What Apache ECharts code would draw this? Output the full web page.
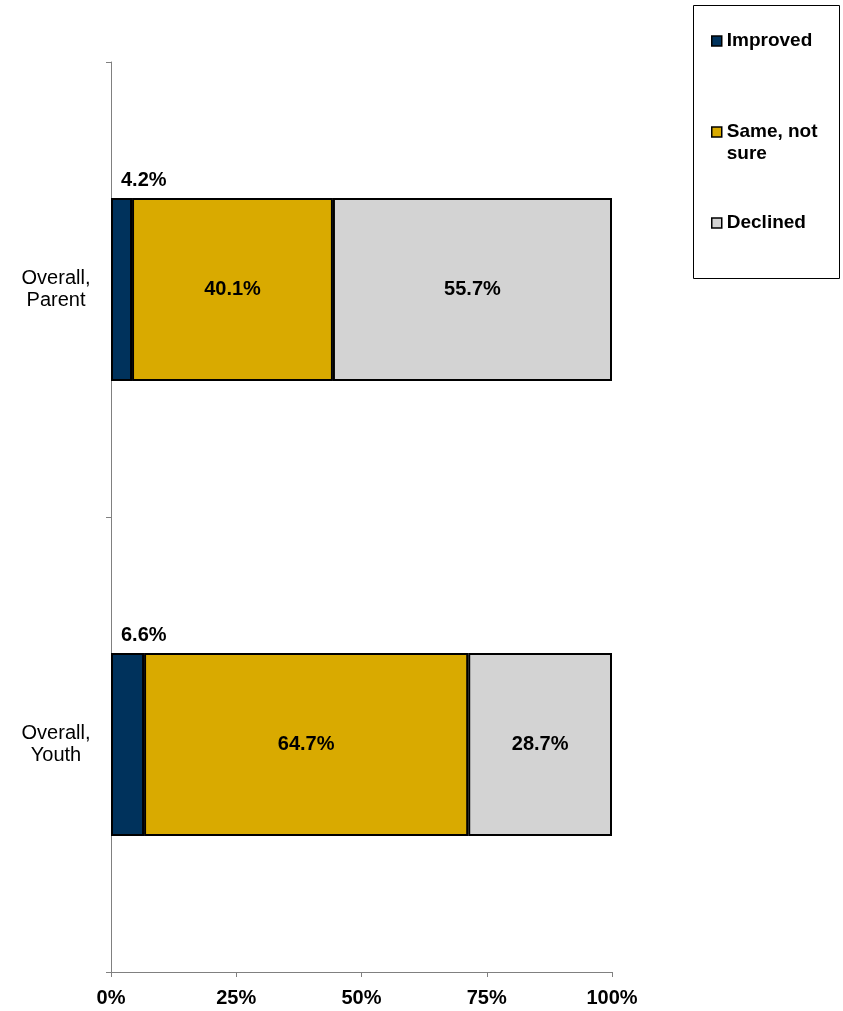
<!DOCTYPE html>
<html>
<head>
<meta charset="utf-8">
<script src="https://cdn.jsdelivr.net/npm/echarts@6/dist/echarts.min.js"></script>
<style>html,body{margin:0;padding:0;background:#fff}#c{width:843px;height:1011px}</style>
</head>
<body>
<div id="c"></div>
<script>
const categories = ['Overall,\nParent', 'Overall,\nYouth'];
const seriesNames = ['Improved', 'Same, not sure', 'Declined'];
const improved = [4.2, 6.6];
const same = [40.1, 64.7];
const declined = [55.7, 28.7];
const xTicks = [0, 25, 50, 75, 100];

const FONT = '"Liberation Sans", Arial, sans-serif';
const colors = ['#00325C', '#D9AA00', '#D3D3D3'];
const chart = echarts.init(document.getElementById('c'), null, {renderer: 'canvas'});

function mkSeries(name, data, color, labelOpt) {
  return {
    name: name, type: 'bar', stack: 'total', data: data, barWidth: 183,
    itemStyle: {color: color, borderColor: '#000', borderWidth: 2},
    label: Object.assign({
      show: true, position: 'inside', color: '#000', fontFamily: FONT,
      fontWeight: 'bold', fontSize: 20,
      formatter: p => p.value.toFixed(1) + '%'
    }, labelOpt || {})
  };
}

chart.setOption({
  animation: false,
  textStyle: {fontFamily: FONT},
  grid: {left: 111, right: 231, top: 62, bottom: 39, containLabel: false},
  graphic: [{
    type: 'rect', left: 691, top: 3,
    shape: {width: 146, height: 273},
    style: {fill: 'none', stroke: '#000', lineWidth: 1}
  }],
  legend: {
    orient: 'vertical', left: 706, top: 25, itemWidth: 10, itemHeight: 10, itemGap: 47,
    icon: 'rect', selectedMode: false,
    itemStyle: {borderColor: '#000', borderWidth: 1.5},
    textStyle: {fontFamily: FONT, fontWeight: 'bold', fontSize: 19, color: '#000', lineHeight: 22},
    formatter: n => n === 'Same, not sure' ? '\nSame, not\nsure' : n,
    data: ['Improved', 'Same, not sure', 'Declined']
  },
  xAxis: {
    type: 'value', min: 0, max: 100, interval: 25,
    axisLine: {show: true, lineStyle: {color: '#808080', width: 1}},
    axisTick: {show: true, length: 5, lineStyle: {color: '#808080'}},
    splitLine: {show: false},
    axisLabel: {
      margin: 16, color: '#000', fontFamily: FONT, fontWeight: 'bold', fontSize: 20,
      formatter: v => xTicks.includes(v) ? v + '%' : ''
    }
  },
  yAxis: {
    type: 'category', data: categories, inverse: true,
    axisLine: {show: true, lineStyle: {color: '#808080', width: 1}},
    axisTick: {show: true, length: 5, lineStyle: {color: '#808080'}},
    axisLabel: {
      margin: 55, align: 'center', color: '#000', fontFamily: FONT, fontSize: 20, lineHeight: 22
    }
  },
  series: [
    mkSeries(seriesNames[0], improved, colors[0], {
      position: [10, -18], align: 'left', verticalAlign: 'middle'
    }),
    mkSeries(seriesNames[1], same, colors[1]),
    mkSeries(seriesNames[2], declined, colors[2])
  ]
});
</script>
</body>
</html>
